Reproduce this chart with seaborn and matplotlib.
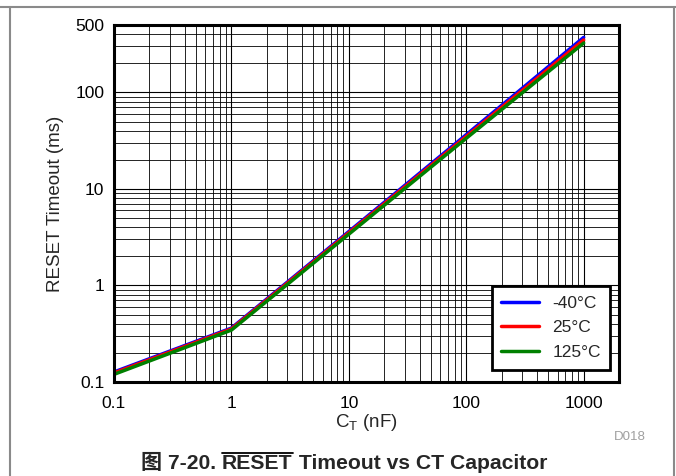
import numpy as np
import pandas as pd
import seaborn as sns
import matplotlib
matplotlib.use('Agg')
import matplotlib.pyplot as plt
from matplotlib.ticker import LogLocator, FixedLocator, FixedFormatter, NullFormatter
from matplotlib.lines import Line2D

# 数据
ct_nf = [0.1, 1, 10, 100, 1000]
t_m40 = [0.127, 0.362, 3.62, 36.5, 372]
t_25 = [0.124, 0.355, 3.52, 35.0, 350]
t_125 = [0.120, 0.345, 3.40, 33.5, 325]
temps = ['-40°C', '25°C', '125°C']
colors = ['#0000ff', '#ff0000', '#008000']
x_ticks = [0.1, 1, 10, 100, 1000]
x_labels = ['0.1', '1', '10', '100', '1000']
y_ticks = [0.1, 1, 10, 100, 500]
y_labels = ['0.1', '1', '10', '100', '500']

df = pd.DataFrame({
    'ct': ct_nf * 3,
    'timeout': t_m40 + t_25 + t_125,
    'temp': [temps[0]] * 5 + [temps[1]] * 5 + [temps[2]] * 5,
})

sns.set_style('white')
plt.rcParams['font.family'] = ['Liberation Sans', 'Noto Sans CJK SC', 'DejaVu Sans']
plt.rcParams['mathtext.fontset'] = 'custom'
plt.rcParams['mathtext.rm'] = 'Liberation Sans'
plt.rcParams['mathtext.it'] = 'Liberation Sans:italic'

fig = plt.figure(figsize=(6.76, 4.76), dpi=100)
ax = fig.add_axes([114 / 676, 94 / 476, 505 / 676, 357 / 476])

sns.lineplot(data=df, x='ct', y='timeout', hue='temp', hue_order=temps,
             palette=colors, linewidth=2.5, ax=ax, legend=False)

ax.set_xscale('log')
ax.set_yscale('log')
ax.set_xlim(0.1, 2000)
ax.set_ylim(0.1, 500)

ax.xaxis.set_major_locator(FixedLocator(x_ticks))
ax.xaxis.set_major_formatter(FixedFormatter(x_labels))
ax.yaxis.set_major_locator(FixedLocator(y_ticks))
ax.yaxis.set_major_formatter(FixedFormatter(y_labels))
ax.xaxis.set_minor_locator(LogLocator(base=10, subs=np.arange(2, 10), numticks=20))
ax.yaxis.set_minor_locator(LogLocator(base=10, subs=np.arange(2, 10), numticks=20))
ax.xaxis.set_minor_formatter(NullFormatter())
ax.yaxis.set_minor_formatter(NullFormatter())
ax.tick_params(which='both', length=0, labelsize=12.5, colors='black')
ax.tick_params(axis='x', pad=10)
ax.tick_params(axis='y', pad=7)

ax.grid(which='major', color='black', linewidth=0.8)
ax.grid(which='minor', color='black', linewidth=0.6)
for s in ax.spines.values():
    s.set_linewidth(2.2)
    s.set_color('black')

ax.set_xlabel(r'C$_\mathrm{T}$ (nF)', fontsize=13.5, labelpad=1)
ax.set_ylabel('RESET Timeout (ms)', fontsize=13.5, labelpad=8)

handles = [Line2D([0], [0], color=c, lw=2.5) for c in colors]
leg = ax.legend(handles, temps, loc='lower right', fontsize=12.5, frameon=True,
                fancybox=False, edgecolor='black', framealpha=1,
                handlelength=2.2, labelspacing=0.55, borderpad=0.55,
                borderaxespad=0.5, handletextpad=0.75, bbox_to_anchor=(1.0, 0.01))
leg.get_frame().set_linewidth(2)

fig.text(646 / 676, 1 - 437 / 476, 'D018', fontsize=9.5, color='#a0a0a0', ha='right', va='center')

# 外框
for xs, ys in [([10 / 676, 10 / 676], [0, 1 - 7 / 476]),
               ([674 / 676, 674 / 676], [0, 1 - 7 / 476]),
               ([0, 1], [1 - 7 / 476, 1 - 7 / 476])]:
    fig.add_artist(Line2D(xs, ys, color='#8a8a8a', lw=1.5, transform=fig.transFigure))

# 标题（RESET 上加横线）
fig.canvas.draw()
r = fig.canvas.get_renderer()
y_cap = 1 - 469 / 476
kw = dict(fontsize=15.2, fontweight='bold', va='baseline', ha='left',
          family=['Liberation Sans', 'Noto Sans CJK SC', 'DejaVu Sans'])
t1 = fig.text(141 / 676, y_cap, '图 7-20. ', **kw)
bb1 = t1.get_window_extent(r)
t2 = fig.text(bb1.x1 / 676, y_cap, 'RESET', **kw)
bb2 = t2.get_window_extent(r)
t3 = fig.text(bb2.x1 / 676, y_cap, ' Timeout vs CT Capacitor', **kw)
top = (bb2.y1 + 1) / 476
fig.add_artist(Line2D([bb2.x0 / 676, bb2.x1 / 676], [top, top], color='black', lw=1.3,
                      transform=fig.transFigure))

fig.savefig('out.png', dpi=100)
